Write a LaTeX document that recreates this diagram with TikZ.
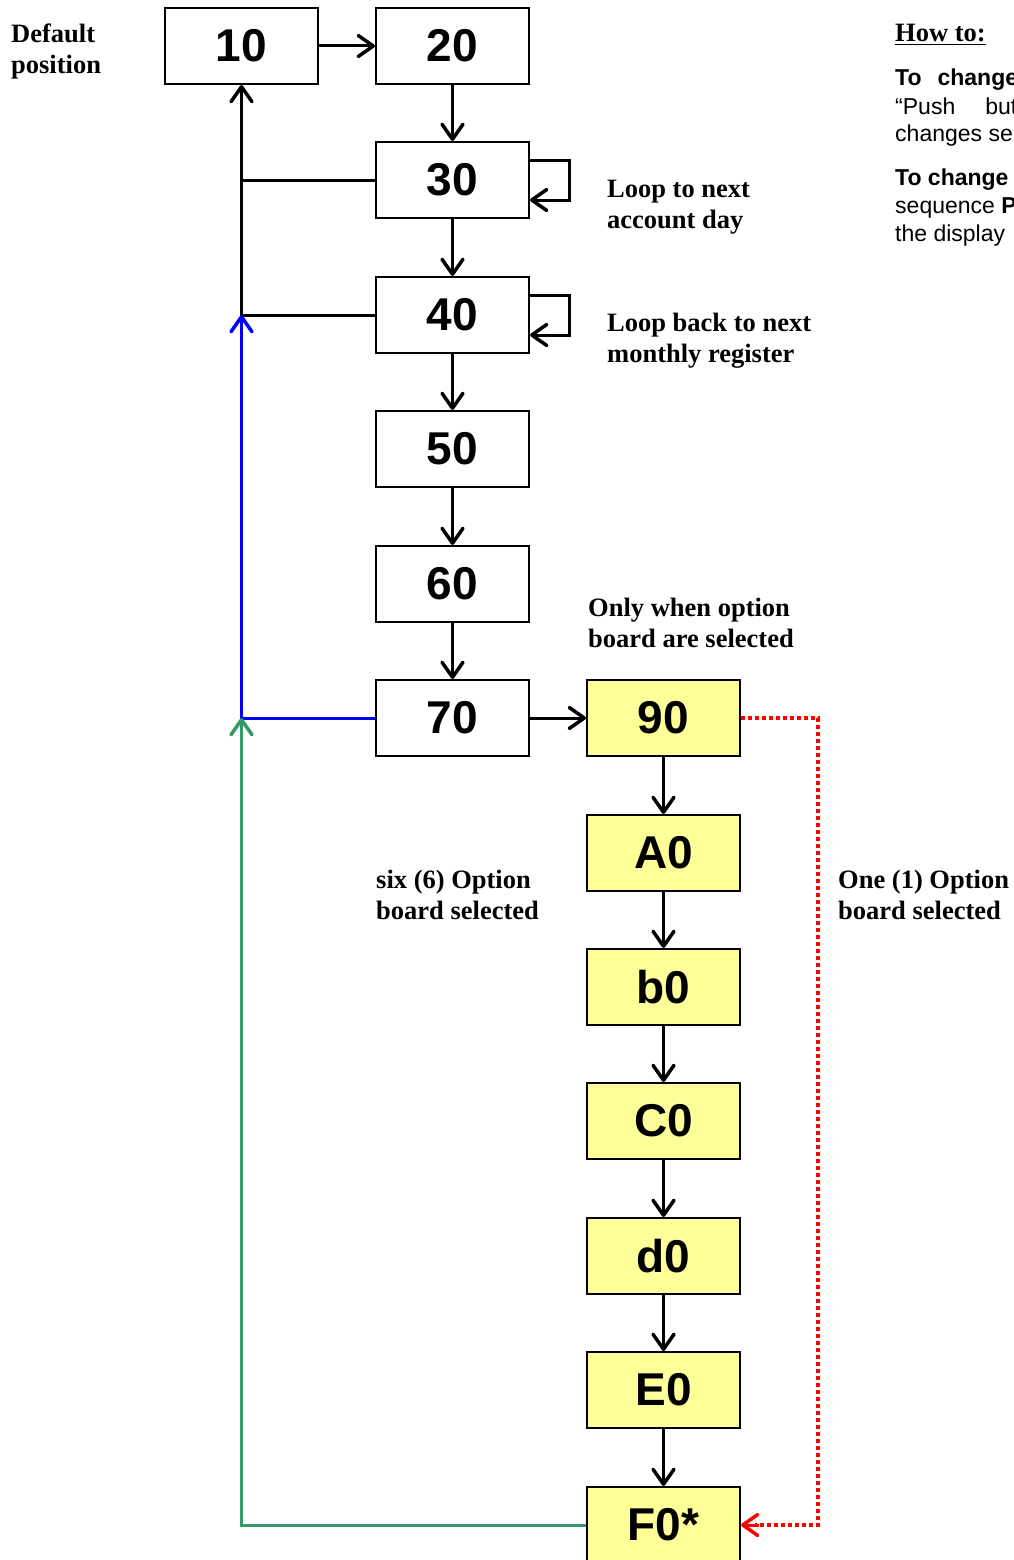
\documentclass[tikz,border=0pt]{standalone}
\usepackage{fontspec}
\setmainfont{Liberation Serif}
\newfontfamily\arialf{Liberation Sans}
\usetikzlibrary{arrows.meta}
\definecolor{optyellow}{HTML}{FFFF99}
\definecolor{loopgreen}{HTML}{339966}
\begin{document}
\begin{tikzpicture}[x=1pt,y=-1pt,
  box/.style={draw, line width=2pt, minimum width=153pt, minimum height=76pt, inner sep=0pt,
              font=\arialf\bfseries\fontsize{46}{50}\selectfont},
  optbox/.style={box, fill=optyellow},
  tip/.style={-{Straight Barb[length=15pt,width=21pt,line width=3.5pt,round]}},
  conn/.style={line width=3pt, tip},
  plain/.style={line width=3pt},
  lbl/.style={anchor=base west, inner sep=0pt, font=\bfseries\fontsize{26.5}{31}\selectfont},
  how/.style={anchor=base west, inner sep=0pt, font=\arialf\fontsize{23}{28}\selectfont}
]
\useasboundingbox (0,0) rectangle (1013,1560);
\clip (0,0) rectangle (1013,1560);

% main column
\node[box] (n10) at (241.5,46) {10};
\node[box] (n20) at (452.5,46) {20};
\node[box] (n30) at (452.5,180) {30};
\node[box] (n40) at (452.5,315) {40};
\node[box] (n50) at (452.5,449) {50};
\node[box] (n60) at (452.5,584) {60};
\node[box] (n70) at (452.5,718) {70};
% option column
\node[optbox] (n90) at (663.5,718) {90};
\node[optbox] (nA0) at (663.5,853) {A0};
\node[optbox] (nb0) at (663.5,987) {b0};
\node[optbox] (nC0) at (663.5,1121) {C0};
\node[optbox] (nd0) at (663.5,1256) {d0};
\node[optbox] (nE0) at (663.5,1390) {E0};
\node[optbox] (nF0) at (663.5,1525) {F0*};

% forward connectors
\draw[conn] (n10) -- (n20);
\draw[conn] (n20) -- (n30);
\draw[conn] (n30) -- (n40);
\draw[conn] (n40) -- (n50);
\draw[conn] (n50) -- (n60);
\draw[conn] (n60) -- (n70);
\draw[conn] (n70) -- (n90);
\draw[conn] (n90) -- (nA0);
\draw[conn] (nA0) -- (nb0);
\draw[conn] (nb0) -- (nC0);
\draw[conn] (nC0) -- (nd0);
\draw[conn] (nd0) -- (nE0);
\draw[conn] (nE0) -- (nF0);

% return paths
\coordinate (j30) at (n30.west -| n10.south);
\coordinate (j40) at (n40.west -| n10.south);
\coordinate (j70) at (n70.west -| n10.south);
\draw[conn] (n40.west) -- (j40) -- (n10.south);
\draw[plain] (n30.west) -- (j30);
\draw[conn, blue] (n70.west) -- (j70) -- (j40);
\draw[conn, loopgreen] (nF0.west) -| (j70);

% self loops
\draw[conn] ([yshift=-19pt]n30.north east) -- ++(39,0) |- ([yshift=19pt]n30.south east);
\draw[conn] ([yshift=-19pt]n40.north east) -- ++(39,0) |- ([yshift=19pt]n40.south east);

% one option board path
\coordinate (rc) at ([xshift=77pt]n90.east);
\draw[red, line width=3.5pt, dash pattern=on 4pt off 3pt] (n90.east) -- (rc) |- ([xshift=14pt]nF0.east);
\draw[red, line width=3pt, tip] ([xshift=18pt]nF0.east) -- (nF0.east);

% labels
\node[lbl] (tdef) at (11,43) {Default};
\node[lbl] (tpos) at (11,74) {position};
\node[lbl] (tl1) at (607,197) {Loop to next};
\node[lbl] (tl2) at (607,228) {account day};
\node[lbl] (tl3) at (607,331) {Loop back to next};
\node[lbl] (tl4) at (607,362) {monthly register};
\node[lbl] (to1) at (588,616) {Only when option};
\node[lbl] (to2) at (588,647) {board are selected};
\node[lbl] (ts1) at (376,888) {six (6) Option};
\node[lbl] (ts2) at (376,919) {board selected};
\node[lbl] (tn1) at (838,888) {One (1) Option};
\node[lbl] (tn2) at (838,919) {board selected};

% how-to text (cut by page edge, as in the reference)
\node[lbl] (thow) at (895,42) {\underline{How to:}};
\node[how] (h1) at (895,86) {\bfseries To\hspace{16pt}change};
\node[how] (h2) at (895,114) {“Push\hspace{30pt}but};
\node[how] (h3) at (895,142) {changes se};
\node[how] (h4) at (895,185) {\bfseries To change};
\node[how] (h5) at (895,213) {sequence \textbf{P}};
\node[how] (h6) at (895,241) {the display};
\end{tikzpicture}
\end{document}
